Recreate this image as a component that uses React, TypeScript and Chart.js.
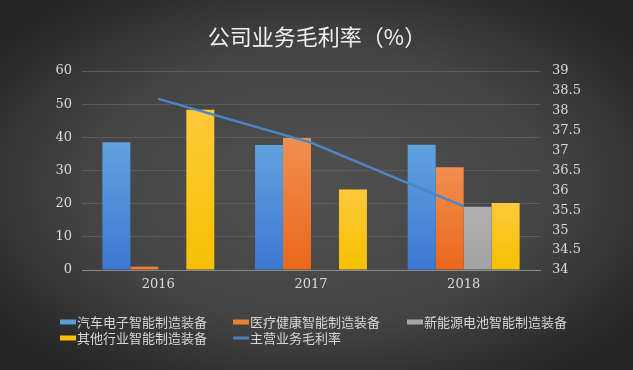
import React, { useEffect, useRef } from "react";
import { Chart, registerables } from "chart.js";
Chart.register(...registerables);

const categories = ["2016", "2017", "2018"];
const autoElec = [38.5, 37.7, 37.8];
const medical = [1, 39.8, 31];
const battery: (number | null)[] = [null, null, 19.1];
const other = [48.3, 24.3, 20.2];
const grossMargin = [38.3, 37.2, 35.6];

const seriesNames = [
  "汽车电子智能制造装备",
  "医疗健康智能制造装备",
  "新能源电池智能制造装备",
  "其他行业智能制造装备",
  "主营业务毛利率",
];
const titleText = "公司业务毛利率（%）";

const CJK = '"Noto Sans CJK SC", "Noto Sans", sans-serif';
const SERIF = '"DejaVu Serif", "Liberation Serif", serif';

function barGrad(top: string, bottom: string) {
  return (ctx: any) => {
    const chart = ctx.chart;
    const area = chart.chartArea;
    const v = ctx.raw;
    if (!area || v == null) return top;
    const sc = chart.scales.y;
    const y0 = sc.getPixelForValue(0);
    const y1 = sc.getPixelForValue(v);
    if (!isFinite(y0) || !isFinite(y1) || y0 === y1) return top;
    const g = chart.ctx.createLinearGradient(0, y1, 0, y0);
    g.addColorStop(0, top);
    g.addColorStop(1, bottom);
    return g;
  };
}

const bgPlugin = {
  id: "bg",
  beforeDraw(chart: any) {
    const { ctx, width, height } = chart;
    ctx.save();
    ctx.fillStyle = "#2c2c2c";
    ctx.fillRect(0, 0, width, height);
    ctx.translate(width / 2, height * 0.5);
    ctx.scale(1, height / width);
    const g = ctx.createRadialGradient(0, 0, 0, 0, 0, width * 0.62);
    g.addColorStop(0, "#505050");
    g.addColorStop(0.6, "#444444");
    g.addColorStop(1, "#262626");
    ctx.fillStyle = g;
    ctx.fillRect(-width, -width, width * 2, width * 2);
    ctx.restore();
  },
};

const legendColors = ["#5b9bd5", "#ed7d31", "#a5a5a5", "#ffc000", "#4a7ebb"];

const decorPlugin = {
  id: "decor",
  afterDraw(chart: any) {
    const { ctx } = chart;
    ctx.save();
    ctx.fillStyle = "#f0f0f0";
    ctx.font = `22px ${CJK}`;
    ctx.textAlign = "center";
    ctx.textBaseline = "middle";
    ctx.fillText(titleText, 317, 37);

    const cols = [60, 233, 407];
    const rows = [322, 338];
    ctx.font = `13px ${CJK}`;
    ctx.textAlign = "left";
    seriesNames.forEach((name, i) => {
      const x = cols[i % 3];
      const y = rows[Math.floor(i / 3)];
      ctx.fillStyle = legendColors[i];
      if (i === 4) ctx.fillRect(x, y - 1.5, 16, 3);
      else ctx.fillRect(x, y - 2.5, 16, 5);
      ctx.fillStyle = "#d6d6d6";
      ctx.fillText(name, x + 17, y);
    });
    ctx.restore();
  },
};

export default function App() {
  const ref = useRef<HTMLCanvasElement>(null);
  useEffect(() => {
    document.body.style.margin = "0";
    const chart = new Chart(ref.current as HTMLCanvasElement, {
      type: "bar",
      data: {
        labels: categories,
        datasets: [
          { type: "bar", label: seriesNames[0], data: autoElec, backgroundColor: barGrad("#5fa2de", "#3b78d4"), yAxisID: "y", order: 2 },
          { type: "bar", label: seriesNames[1], data: medical, backgroundColor: barGrad("#f28e50", "#e9681b"), yAxisID: "y", order: 2 },
          { type: "bar", label: seriesNames[2], data: battery, backgroundColor: barGrad("#b0b0b0", "#a2a2a2"), yAxisID: "y", order: 2 },
          { type: "bar", label: seriesNames[3], data: other, backgroundColor: barGrad("#ffc93a", "#f6c000"), yAxisID: "y", order: 2 },
          {
            type: "line",
            label: seriesNames[4],
            data: grossMargin,
            borderColor: "#4a86c8",
            borderWidth: 2.5,
            pointRadius: 0,
            tension: 0,
            yAxisID: "y1",
            order: 1,
          } as any,
        ],
      },
      options: {
        responsive: false,
        animation: false,
        layout: { padding: { left: 52, right: 43, top: 71, bottom: 70 } },
        datasets: { bar: { barPercentage: 1, categoryPercentage: 0.733 } },
        plugins: { legend: { display: false }, title: { display: false }, tooltip: { enabled: false } },
        scales: {
          x: {
            grid: { display: false, drawTicks: false },
            border: { display: true, color: "#8a8a8a", width: 1 },
            ticks: { color: "#d9d9d9", font: { family: SERIF, size: 13 }, padding: 7 },
            afterFit: (s: any) => { s.height = 30; },
          },
          y: {
            position: "left",
            min: 0,
            max: 60,
            ticks: { stepSize: 10, color: "#d9d9d9", font: { family: SERIF, size: 13 }, padding: 10 },
            grid: { color: "#5c5c5c", drawTicks: false, lineWidth: 1 },
            border: { display: false },
            afterFit: (s: any) => { s.width = 30; },
          },
          y1: {
            position: "right",
            min: 34,
            max: 39,
            ticks: {
              stepSize: 0.5,
              color: "#d9d9d9",
              font: { family: SERIF, size: 13 },
              padding: 12,
              callback: (v: any) => String(Math.round(Number(v) * 10) / 10),
            },
            grid: { display: false, drawTicks: false },
            border: { display: false },
            afterFit: (s: any) => { s.width = 50; },
          },
        },
      },
      plugins: [bgPlugin, decorPlugin],
    });
    return () => chart.destroy();
  }, []);
  return (
    <div style={{ width: 633, height: 370 }}>
      <canvas ref={ref} width={633} height={370} />
    </div>
  );
}
